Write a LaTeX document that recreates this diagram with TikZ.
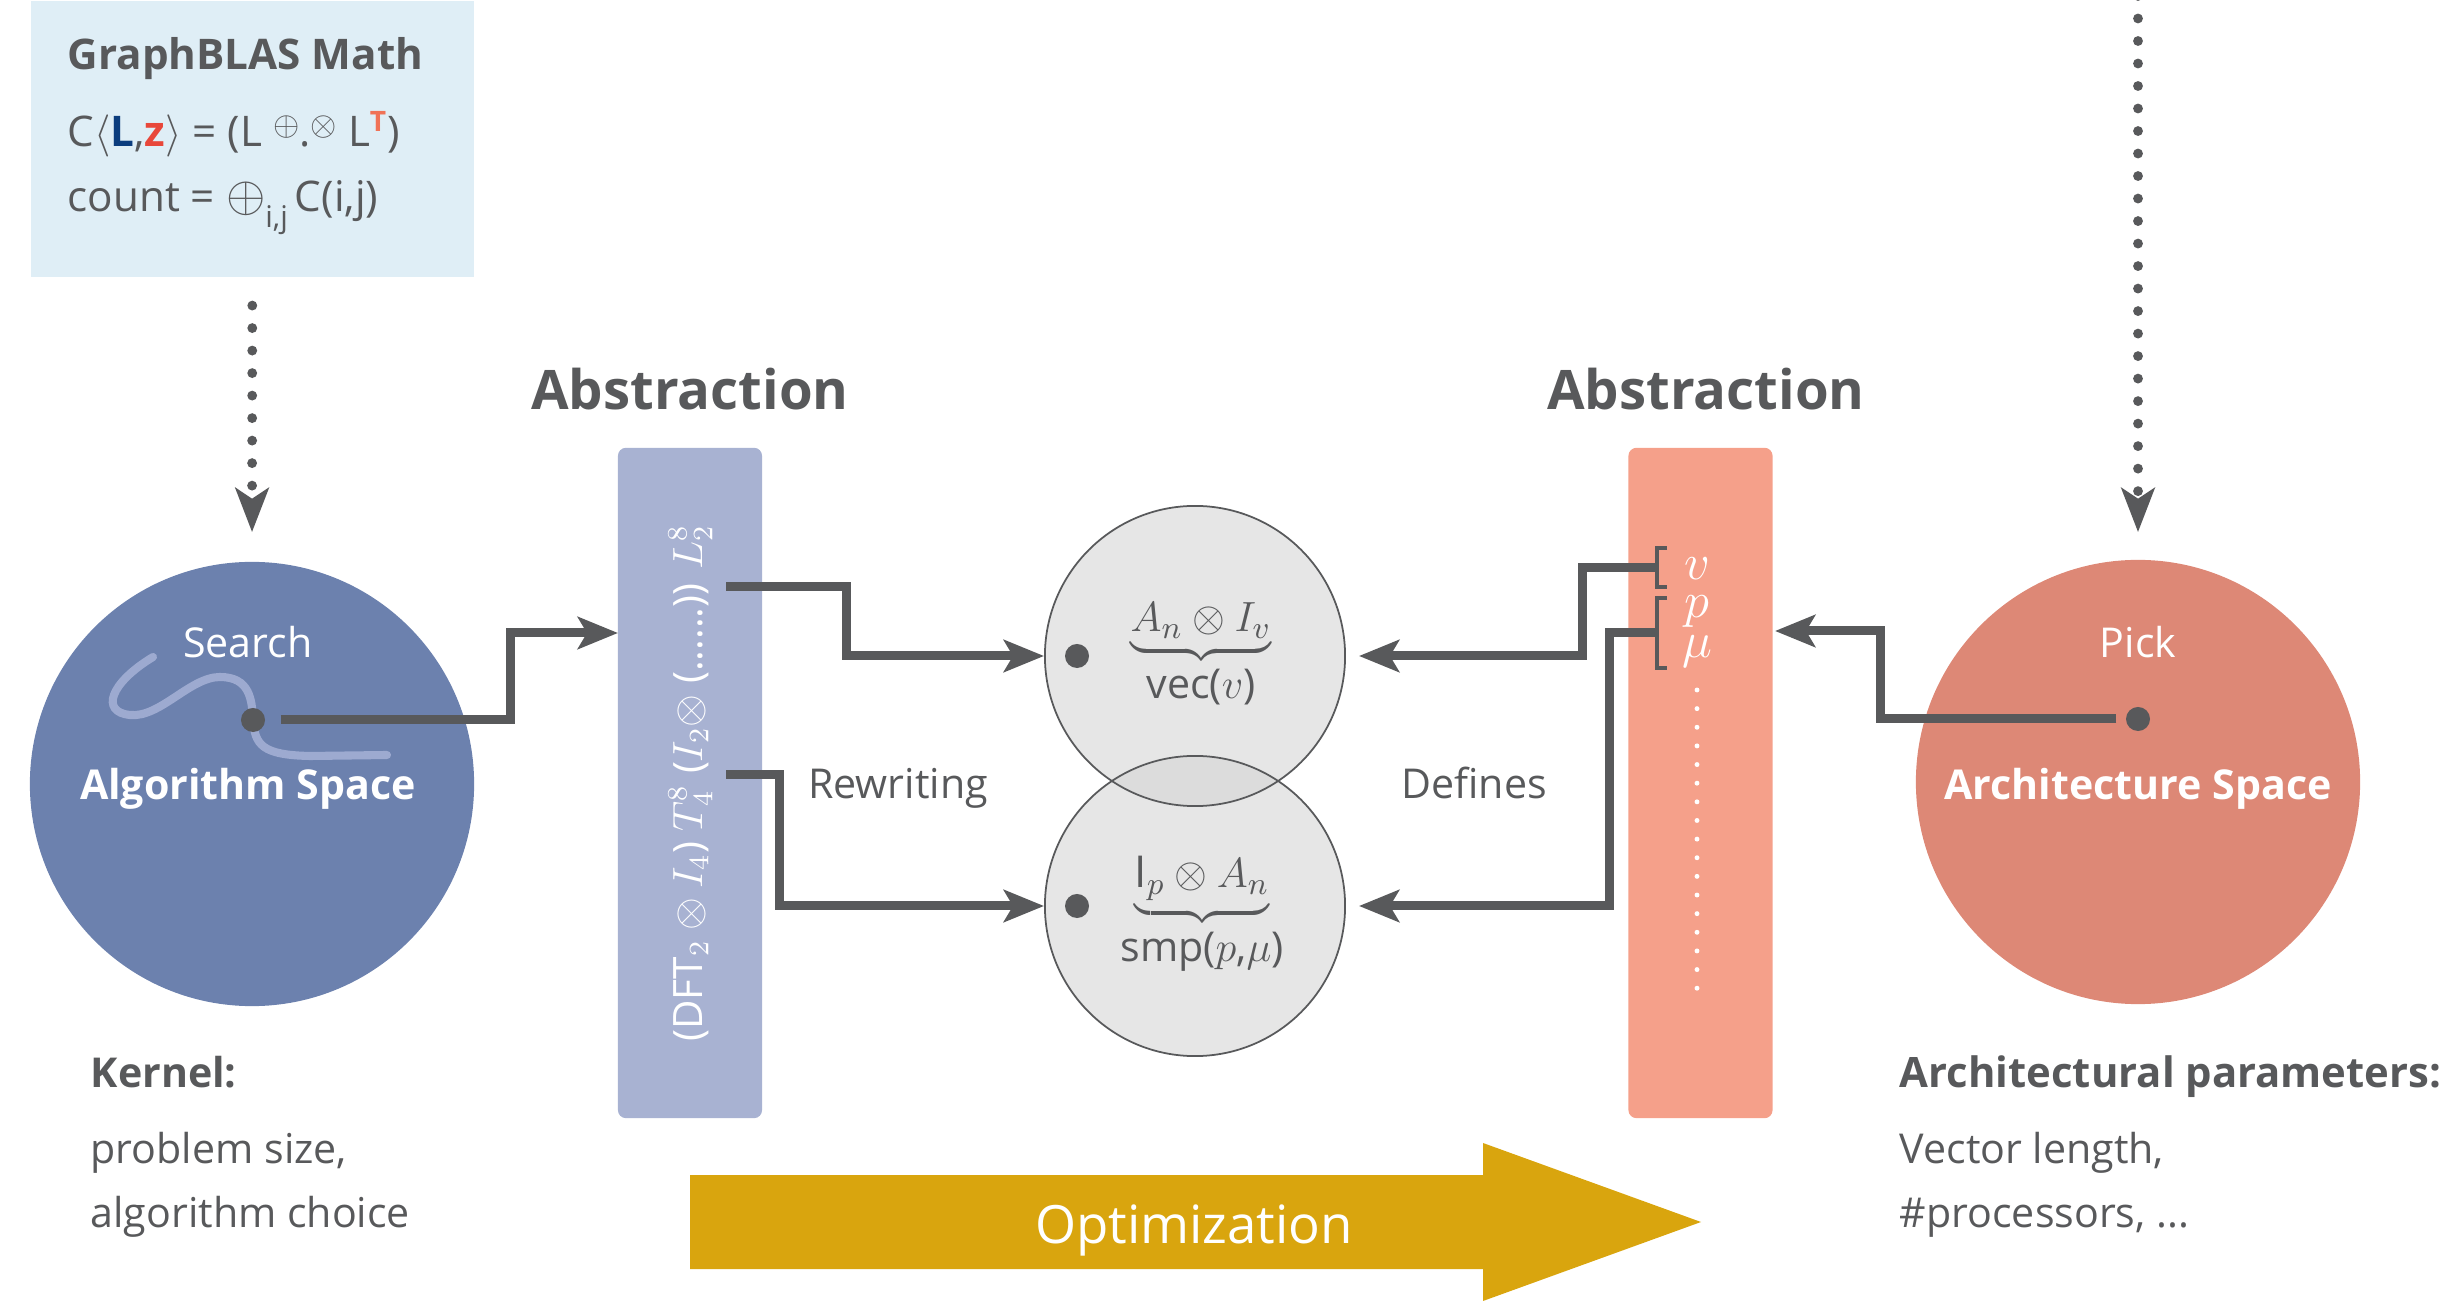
\documentclass[tikz,border=0pt]{standalone}
\usepackage{fontspec}
\setmainfont{Open Sans}
\usetikzlibrary{arrows.meta}
\definecolor{dgray}{RGB}{88,89,91}
\definecolor{gbblue}{RGB}{223,238,246}
\definecolor{algc}{RGB}{108,129,174}
\definecolor{searchc}{RGB}{157,170,208}
\definecolor{absLc}{RGB}{168,178,210}
\definecolor{absRc}{RGB}{245,160,138}
\definecolor{archc}{RGB}{221,136,118}
\definecolor{optc}{RGB}{217,165,14}
\definecolor{cfill}{RGB}{213,213,213}
\definecolor{lblue}{RGB}{11,61,126}
\definecolor{zred}{RGB}{232,71,58}
\definecolor{tred}{RGB}{240,114,87}
\begin{document}
\begin{tikzpicture}[x=0.01cm, y=-0.01cm,
  every node/.style={inner sep=0},
  font=\fontsize{11.7}{14}\selectfont,
  conn/.style={draw=dgray, line width=2.56pt, -{Stealth[length=11.4pt,width=9.1pt,inset=2.6pt]}},
  dotarrow/.style={draw=dgray, line width=2.8pt, line cap=round, dash pattern=on 0pt off 6.4pt, -{Stealth[length=12.5pt,width=9.4pt,inset=3pt]}},
  bigcirc/.style={circle, minimum size=4.44cm},
  smallcirc/.style={circle, draw=dgray, line width=0.5pt, minimum size=3cm},
  pdot/.style={circle, fill=dgray, minimum size=0.24cm},
  absbox/.style={rounded corners=0.08cm, minimum width=1.44cm, minimum height=6.70cm},
  lbl/.style={anchor=base, text=dgray},
  wlbl/.style={anchor=base, text=white},
  ltext/.style={anchor=base west, text=dgray},
  bracket/.style={draw=dgray, line width=1.4pt}]
\useasboundingbox (0,0) rectangle (2442,1301);

% GraphBLAS box
\node[fill=gbblue, minimum width=4.43cm, minimum height=2.76cm, anchor=north west] (gb) at (30,0) {};
\node[ltext, font=\fontsize{12}{14}\selectfont\bfseries] (gbt) at (67,70) {GraphBLAS Math};
\node[ltext, font=\fontsize{12}{14}\selectfont] (gb2) at (67,147) {C$\langle$\textbf{\color{lblue}L},\textbf{\color{zred}z}$\rangle$ = (L \raisebox{3.2pt}{\scalebox{0.8}{$\oplus$}}.\raisebox{3.2pt}{\scalebox{0.8}{$\otimes$}} L$^{\mbox{\fontsize{8}{8}\selectfont\bfseries\color{tred}T}}$)};
\node[ltext, font=\fontsize{12}{14}\selectfont] (gb3) at (67,212) {count = \scalebox{1.2}{$\oplus$}\raisebox{-4.3pt}{\fontsize{8.5}{8}\selectfont i,j}\,C(i,j)};

% algorithm space
\node[bigcirc, fill=algc] (alg) at (252,784) {};
\draw[searchc, line width=2.3pt, line cap=round] (153,657) .. controls (110,683) and (100,712) .. (130,715) .. controls (160,718) and (190,677) .. (220,677) .. controls (250,677) and (252,700) .. (253,720) .. controls (255,745) and (262,755) .. (310,756) -- (387,755);
\node[pdot] (adot) at (253,720) {};
\node[wlbl] (search) at (248,658) {Search};
\node[wlbl, font=\fontsize{11.7}{14}\selectfont\bfseries] (algt) at (248,800) {Algorithm Space};
\draw[dotarrow, shorten <=0.28cm, shorten >=0.29cm] (gb.south) -- (alg.north);

% architecture space
\node[bigcirc, fill=archc] (arch) at (2138,782) {};
\node[pdot] (rdot) at (2138,719) {};
\node[wlbl] (pick) at (2138,658) {Pick};
\node[wlbl, font=\fontsize{11.7}{14}\selectfont\bfseries] (archt) at (2138,800) {Architecture Space};
\coordinate (rtop) at (2138,-4);
\draw[dotarrow, shorten >=0.27cm] (rtop) -- (arch.north);

% abstraction boxes
\node[lbl, font=\fontsize{15.5}{18}\selectfont\bfseries] (absLt) at (690,410) {Abstraction};
\node[lbl, font=\fontsize{15.5}{18}\selectfont\bfseries] (absRt) at (1706,410) {Abstraction};
\node[absbox, fill=absLc] (absL) at (690,783) {};
\node[absbox, fill=absRc] (absR) at (1700.5,783) {};
\node[rotate=90, anchor=base, text=white, font=\fontsize{11.5}{13}\selectfont] (formula) at (702,783) {(DFT$_2\otimes I_4$) $T^8_4$ ($I_2\otimes$ (......)) $L^8_2$};

% right box parameters
\node[wlbl, font=\fontsize{14}{14}\selectfont] (pv) at (1697,580) {$v$};
\node[wlbl, font=\fontsize{14}{14}\selectfont] (pp) at (1697,618) {$p$};
\node[wlbl, font=\fontsize{14}{14}\selectfont] (pmu) at (1697,658) {$\mu$};
\draw[white, line width=1.4pt, line cap=round, dash pattern=on 0pt off 5.3pt] (1697,690) -- (1697,1005);
\draw[bracket] (1667,548) -- (1657,548) -- (1657,587) -- (1667,587);
\draw[bracket] (1667,598) -- (1657,598) -- (1657,668) -- (1667,668);
\coordinate (bv) at (1657,568);
\coordinate (bpm) at (1657,633);

% middle circles
\fill[cfill, opacity=0.6] (1195,656) circle (150);
\fill[cfill, opacity=0.6] (1195,906) circle (150);
\node[smallcirc] (c1) at (1195,656) {};
\node[smallcirc] (c2) at (1195,906) {};
\node[pdot] (d1) at (1077,656) {};
\node[pdot] (d2) at (1077,906) {};
\node[lbl, font=\fontsize{12.5}{14}\selectfont] (m1) at (1201,632) {$\underbrace{A_n\otimes I_v}_{\mbox{\fontsize{11.7}{14}\selectfont vec($v$)}}$};
\node[lbl, font=\fontsize{12.5}{14}\selectfont] (m2) at (1202,888) {$\underbrace{\mathrm{I}_p\otimes A_n}_{\mbox{\fontsize{11.7}{14}\selectfont smp($p$,$\mu$)}}$};

\node[lbl] (rew) at (898,799) {Rewriting};
\node[lbl] (def) at (1474,799) {Defines};

% connectors
\coordinate (lin) at (618,633);
\coordinate (rin) at (1775,631);
\coordinate (lo1) at (726,587);
\coordinate (lo2) at (726,775);
\coordinate (c1r) at ([xshift=0.13cm]c1.east);
\coordinate (c2r) at ([xshift=0.13cm]c2.east);
\draw[conn] ([xshift=0.15cm]adot.east) -- ++(230,0) |- (lin);
\draw[conn] ([xshift=-0.09cm]rdot.west) -- ++(-236,0) |- (rin);
\draw[conn] (lo1) -- ++(120,0) |- (c1.west);
\draw[conn] (lo2) -- ++(53,0) |- (c2.west);
\draw[conn] (bv) -- ++(-75,0) |- (c1r);
\draw[conn] (bpm) -- ++(-48,0) |- (c2r);

% optimization arrow
\fill[optc] (690,1175) -- (1483,1175) -- (1483,1143) -- (1701,1222) -- (1483,1301) -- (1483,1269) -- (690,1269) -- cycle;
\node[wlbl, font=\fontsize{15}{18}\selectfont] (opt) at (1194,1243) {Optimization};

% bottom texts
\node[ltext, font=\fontsize{11.7}{14}\selectfont\bfseries] (kern) at (90,1087) {Kernel:};
\node[ltext] (kern1) at (90,1163) {problem size,};
\node[ltext] (kern2) at (90,1227) {algorithm choice};
\node[ltext, font=\fontsize{11.9}{14}\selectfont\bfseries] (apar) at (1899,1087) {Architectural parameters:};
\node[ltext] (apar1) at (1899,1163) {Vector length,};
\node[ltext] (apar2) at (1899,1227) {\#processors, ...};
\end{tikzpicture}
\end{document}
